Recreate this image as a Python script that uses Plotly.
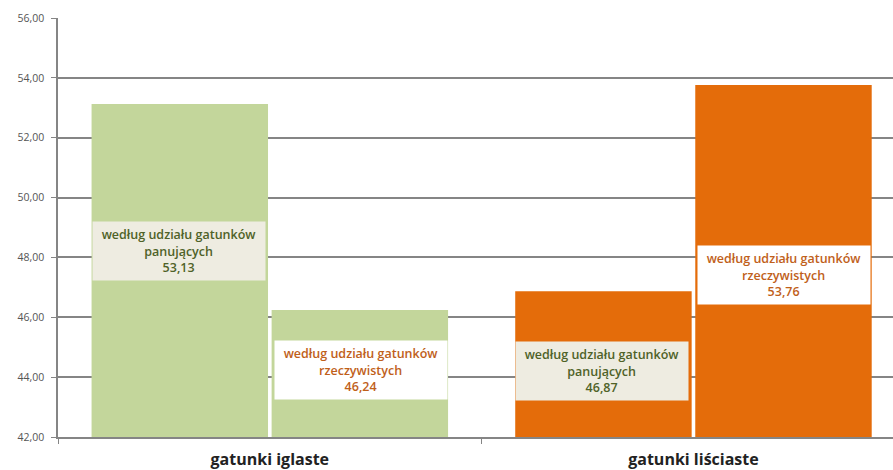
import plotly.graph_objects as go

# dane
categories = ['gatunki iglaste', 'gatunki liściaste']
series_names = ['według udziału gatunków<br>panujących', 'według udziału gatunków<br>rzeczywistych']
panujace = [53.13, 46.87]
rzeczywiste = [46.24, 53.76]
label_y_panujace = [48.2, 44.2]
label_y_rzeczywiste = [44.25, 47.4]

bar_colors = ['#c3d69b', '#e46c0a']

fig = go.Figure()
fig.add_trace(go.Bar(x=categories, y=panujace, marker_color=bar_colors,
                     marker_line_width=0, name='panujące'))
fig.add_trace(go.Bar(x=categories, y=rzeczywiste, marker_color=bar_colors,
                     marker_line_width=0, name='rzeczywiste'))

# etykiety danych w ramkach
def fmt(v):
    return ('%.2f' % v).replace('.', ',')

for i, cat in enumerate(categories):
    fig.add_annotation(x=cat, y=label_y_panujace[i], xshift=-91,
                       text=series_names[0] + '<br>' + fmt(panujace[i]),
                       showarrow=False, bgcolor='#eeece1', width=170, height=56,
                       font=dict(family='Open Sans', size=12.5, color='#4f6228', weight=600))
    fig.add_annotation(x=cat, y=label_y_rzeczywiste[i], xshift=91,
                       text=series_names[1] + '<br>' + fmt(rzeczywiste[i]),
                       showarrow=False, bgcolor='#ffffff', width=170, height=56,
                       font=dict(family='Open Sans', size=12.5, color='#c0601a', weight=600))

fig.update_layout(
    width=893, height=470,
    margin=dict(l=58, r=0, t=18, b=33),
    paper_bgcolor='white', plot_bgcolor='white',
    barmode='group', bargap=0.15, bargroupgap=0.02,
    showlegend=False,
    separators=', ',
    font=dict(family='Open Sans'),
)
fig.update_yaxes(range=[42, 56], dtick=2, tickformat='.2f', automargin=False,
                 showgrid=True, gridcolor='#858585', gridwidth=1.5,
                 showline=True, linecolor='#858585', linewidth=1.5,
                 ticks='outside', ticklen=5, tickcolor='#858585', ticklabelstandoff=5,
                 tickfont=dict(size=10.5, color='#555555'))
fig.update_xaxes(range=[-0.5, 1.471], tickson='boundaries', automargin=False,
                 showline=True, linecolor='#858585', linewidth=1.5,
                 ticks='outside', ticklen=5, tickcolor='#858585', ticklabelstandoff=7,
                 tickfont=dict(size=16, color='#222222', weight='bold'))

fig.write_html("out.html", config={'displayModeBar': False},
               post_script="document.body.style.margin='0';")
